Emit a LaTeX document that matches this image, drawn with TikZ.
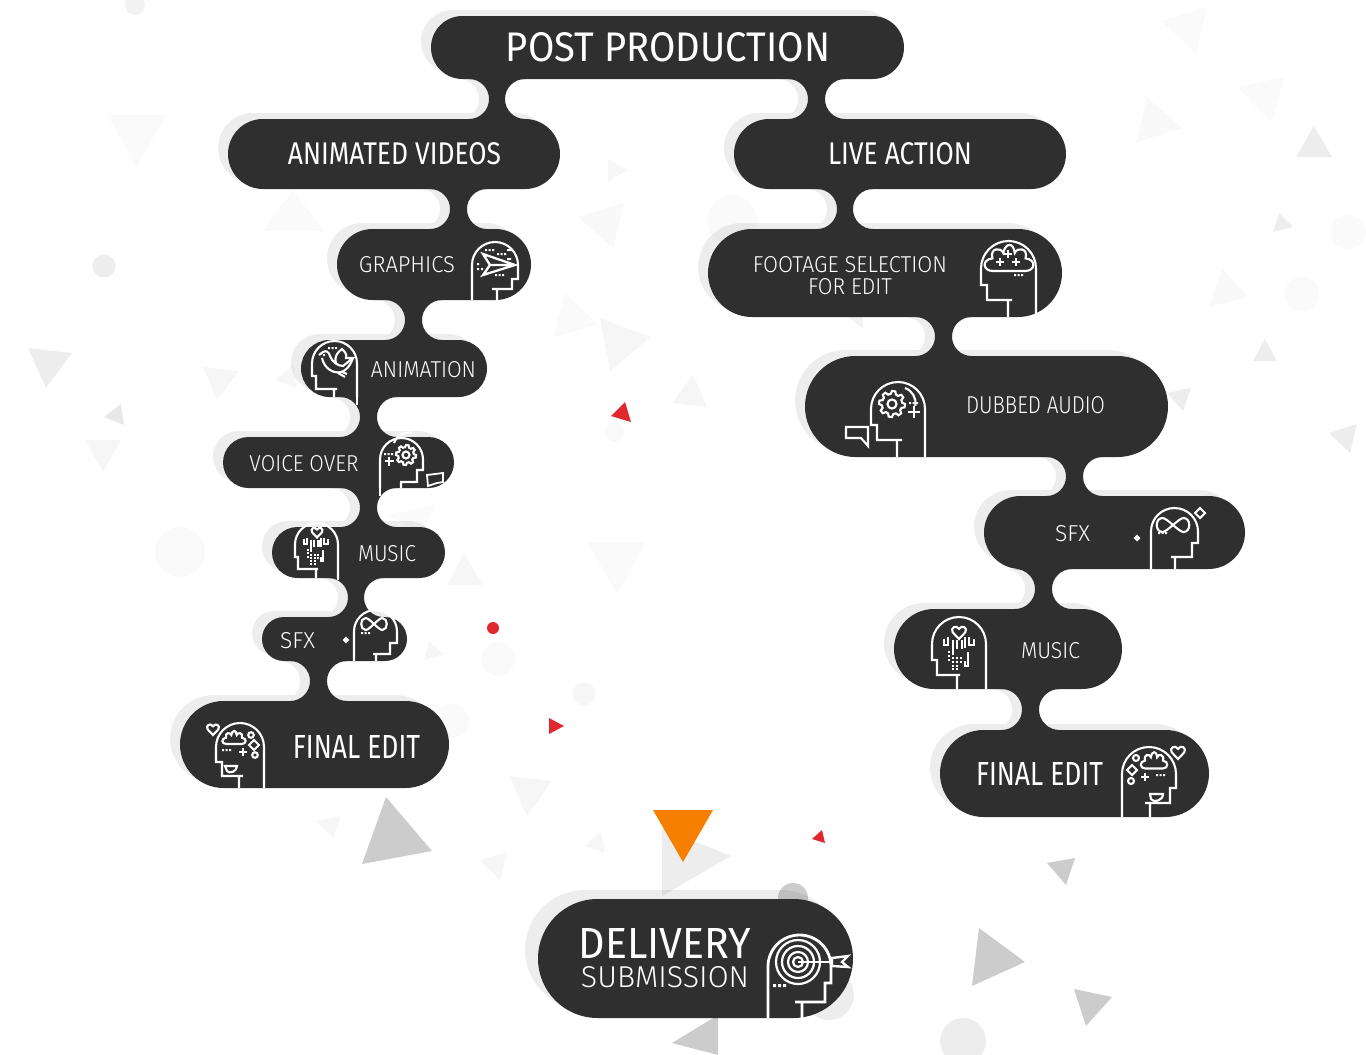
\documentclass[tikz,border=0pt]{standalone}
\usepackage{fontspec}
\usepackage{graphicx}
\usetikzlibrary{calc}
\setmainfont{Liberation Sans}
\newfontfamily\regfont{Fira Sans}
\newfontfamily\lightfont[UprightFont=* Light]{Fira Sans}
\definecolor{pilldark}{HTML}{2F2F2F}
\definecolor{shadowgrey}{HTML}{EDEDED}
\definecolor{markorange}{HTML}{F77F00}
\definecolor{markred}{HTML}{E1282E}
\pgfdeclarelayer{shadowlayer}
\pgfdeclarelayer{bglayer}
\pgfsetlayers{shadowlayer,bglayer,main}
\tikzset{
  shadowfill/.style={fill=shadowgrey},
  pillfill/.style={fill=pilldark},
  pillbox/.style={rectangle,fill=pilldark,inner sep=0pt,outer sep=0pt},
  textnode/.style={inner sep=0pt,outer sep=0pt,text=white,align=center},
  iconline/.style={draw=white,line width=2.1pt,line join=miter,fill=none},
  thinline/.style={draw=white,line width=1.8pt,fill=none},
  tv/.style={fill=black,opacity=.035},
  ta/.style={fill=black,opacity=.07},
  tf/.style={fill=black,opacity=.02},
  tc/.style={fill=black,opacity=.2},
}
\newcommand\shx{-10}
\newcommand\shy{-6}
\newcommand\pill[5]{%
  \begin{pgfonlayer}{shadowlayer}
    \fill[shadowfill,shift={(\shx,\shy)},rounded corners={(#5-#3)/2*1pt}] (#2,#3) rectangle (#4,#5);
  \end{pgfonlayer}
  \node[pillbox,minimum width={(#4-#2)*1pt},minimum height={(#5-#3)*1pt},rounded corners={(#5-#3)/2*1pt}] (#1) at ({(#2+#4)/2},{(#3+#5)/2}) {};}
\newcommand\neckshape[4]{let \p1=(#1.south),\p2=(#2.north),\n1={(\y1-\y2)/2} in ({#3*1pt-\n1},\y1) arc[start angle=90,end angle=-90,radius=\n1] -- ({#4*1pt+\n1},\y2) arc[start angle=270,end angle=90,radius=\n1] -- cycle}
\newcommand\neck[4]{%
  \begin{pgfonlayer}{shadowlayer}
    \fill[shadowfill,shift={(\shx,\shy)}] \neckshape{#1}{#2}{#3}{#4};
  \end{pgfonlayer}
  \fill[pillfill] \neckshape{#1}{#2}{#3}{#4};}
\newcommand\lbl[7]{\node[textnode] (#1) at (#2,#3) {#6\resizebox{#4pt}{#5pt}{#7}};}
\newcommand\headright[9]{\draw[iconline] (#1,#9) -- (#1,{#3+(#2-#1)/2}) arc[start angle=180,delta angle=180,radius={(#2-#1)/2}] -- (#2,#4) -- (#5,#4) -- (#5,#6) -- (#7,#6) (#8,#6) -- (#8,#9);}
\newcommand\headleft[9]{\draw[iconline] (#2,#9) -- (#2,{#3+(#2-#1)/2}) arc[start angle=0,delta angle=-180,radius={(#2-#1)/2}] -- (#1,#4) -- (#5,#4) -- (#5,#6) -- (#7,#6) (#8,#6) -- (#8,#9);}
\newcommand\iconplus[3]{\draw[iconline] ({#1-#3},#2) -- ({#1+#3},#2) (#1,{#2-#3}) -- (#1,{#2+#3});}
\newcommand\icondots[2]{\fill[white] (#1,#2) rectangle +(2.2,2.2) ({#1+3.5},#2) rectangle +(2.2,2.2) ({#1+7},#2) rectangle +(2.2,2.2);}
\newcommand\iconcloud[4]{\draw[iconline,shift={(#1,#2)},xscale=#3/2,yscale=#4/2] (-.7,1) .. controls (-1.15,1) and (-1.2,.05) .. (-.72,-.05) .. controls (-.85,-.95) and (-.35,-1) .. (-.25,-.5) .. controls (-.15,-1.4) and (.2,-1.4) .. (.25,-.5) .. controls (.35,-1) and (.85,-.95) .. (.72,-.05) .. controls (1.2,.05) and (1.15,1) .. (.7,1) -- cycle;}
\newcommand\iconheart[3]{\draw[iconline,shift={(#1,#2)},scale=#3] (0,1) -- (-.9,.05) .. controls (-1.3,-.6) and (-.4,-1.1) .. (0,-.45) .. controls (.4,-1.1) and (1.3,-.6) .. (.9,.05) -- cycle;}
\newcommand\icondiamond[3]{\draw[iconline,shift={(#1,#2)},scale=#3] (0,-1) -- (1,0) -- (0,1) -- (-1,0) -- cycle;}
\newcommand\iconinf[4]{\draw[iconline,shift={(#1,#2)},xscale=#3,yscale=#4] (0,0) .. controls (-.35,-.6) and (-.6,-1) .. (-.75,-1) .. controls (-1.3,-1) and (-1.3,1) .. (-.75,1) .. controls (-.6,1) and (-.35,.6) .. (0,0) .. controls (.35,-.6) and (.6,-1) .. (.75,-1) .. controls (1.3,-1) and (1.3,1) .. (.75,1) .. controls (.6,1) and (.35,.6) .. (0,0) -- cycle;}
\newcommand\icongear[3]{\draw[iconline,shift={(#1,#2)},scale=#3] plot[domain=0:360,samples=49] (\x:{ifthenelse(mod(round(\x/7.5),6)<3,1,.78)}) -- cycle; \draw[iconline] (#1,#2) circle ({#3*.35});}
\newcommand\iconmusic[3]{\begin{scope}[shift={(#1,#2)},scale=#3]
  \draw[iconline] (-15,-12) -- (-15,-6) -- (-11,-6) -- (-11,-14) (-6,-11) -- (-6,4) (-2,-11) -- (-2,-2) (3,-11) -- (3,-2) (6,-14) -- (6,-3) (10,-14) -- (10,-6) -- (15,-6) -- (15,-12) (9,1) -- (9,15) -- (6,15) -- (6,10);
  \foreach \dx/\dy in {-11/0,-7/6,-11/4,-7/10,-3/6,-11/8,-3/10,1/6,-7/14,-3/14,-7/17,-3/17,1/10}
    {\fill[white] (\dx,\dy) rectangle +(2.4,2.4);}
  \end{scope}}
\begin{document}
\begin{tikzpicture}[x=1pt,y=-1pt]
\useasboundingbox (0,0) rectangle (1366,1055);
% background shapes
\begin{pgfonlayer}{bglayer}
\fill[ta,opacity=.05] (135,5) circle (10);
\fill[tf] (107,115) -- (166,115) -- (137,167) -- cycle;
\fill[tf] (293,190) -- (324,231) -- (263,231) -- cycle;
\fill[ta] (104,266) circle (11.5);
\fill[ta] (28,348) -- (72,353) -- (46,388) -- cycle;
\fill[tv] (203,367) -- (239,371) -- (217,400) -- cycle;
\fill[tv] (293,365) -- (275,380) -- (297,388) -- cycle;
\fill[ta,opacity=.09] (121,404) -- (124,425) -- (104,417) -- cycle;
\fill[tv] (85,440) -- (121,440) -- (103,472) -- cycle;
\fill[tv] (608,159) -- (627,170) -- (608,182) -- cycle;
\fill[tv,opacity=.025] (624,203) -- (578,217) -- (613,248) -- cycle;
\fill[tf] (732,220) circle (25);
\fill[tf] (565,293) -- (598,324) -- (553,338) -- cycle;
\fill[tv] (600,318) -- (651,337) -- (610,371) -- cycle;
\fill[tv] (693,374) -- (707,407) -- (672,403) -- cycle;
\fill[tf] (615,432) circle (10);
\fill[tf] (1207,7) -- (1161,21) -- (1196,54) -- cycle;
\fill[tf] (1285,77) -- (1237,87) -- (1271,123) -- cycle;
\fill[tf,opacity=.025] (1147,97) -- (1182,128) -- (1136,143) -- cycle;
\fill[ta] (1314,126) -- (1332,157) -- (1296,157) -- cycle;
\fill[ta] (1279,213) -- (1293,227) -- (1273,232) -- cycle;
\fill[tf] (1348,232) circle (17.5);
\fill[tf,opacity=.025] (1222,268) -- (1248,297) -- (1209,307) -- cycle;
\fill[tf] (1302,294) circle (17.5);
\fill[ta] (1265,339) -- (1277,361) -- (1253,361) -- cycle;
\fill[ta] (1191,388) -- (1167,393) -- (1183,411) -- cycle;
\fill[ta] (1357,424) -- (1329,433) -- (1350,453) -- cycle;
\fill[ta,opacity=.05] (840,310) -- (863,310) -- (863,329) -- cycle;
\fill[tf] (180,552) circle (25);
\fill[tf] (435,505) -- (388,515) -- (423,533) -- cycle;
\fill[tv] (464,553) -- (483,585) -- (447,585) -- cycle;
\fill[tf] (587,542) -- (646,542) -- (617,594) -- cycle;
\fill[tv] (429,641) -- (443,654) -- (424,660) -- cycle;
\fill[tf] (498,659) circle (17);
\fill[tv] (584,694) circle (11.5);
\fill[tf] (452,721) circle (17);
\fill[tv] (509,776) -- (552,781) -- (527,816) -- cycle;
\fill[tc] (386,797) -- (432,851) -- (362,864) -- cycle;
\fill[tv] (341,816) -- (317,821) -- (333,838) -- cycle;
\fill[tv] (601,831) -- (605,853) -- (584,846) -- cycle;
\fill[tv] (507,852) -- (479,860) -- (500,880) -- cycle;
\fill[ta] (662,828) -- (731,856) -- (662,896) -- cycle;
\fill[tc] (793,898) circle (15);
\fill[ta] (829,995) circle (25);
\fill[tc] (718,1015) -- (718,1055) -- (672,1043) -- cycle;
\fill[tc] (1075,858) -- (1047,863) -- (1066,885) -- cycle;
\fill[tc] (979,928) -- (1025,962) -- (972,986) -- cycle;
\fill[tc] (1074,989) -- (1112,997) -- (1086,1026) -- cycle;
\fill[ta] (963,1041) circle (23);
\end{pgfonlayer}
% accent marks
\fill[markorange] (653,810) -- (713,810) -- (683,862) -- cycle;
\fill[markred] (625,402) -- (631,422) -- (611,416) -- cycle;
\fill[markred] (549,718) -- (564,726) -- (549,734) -- cycle;
\fill[markred] (822,830) -- (825,843) -- (812,839) -- cycle;
\fill[markred] (493,628) circle (6);
% pills
\pill{post}{431}{16}{904}{79}
\pill{anim}{228}{119}{560}{189}
\pill{live}{734}{119}{1066}{189}
\pill{graph}{337}{229}{531}{300}
\pill{animation}{301}{340}{487}{397}
\pill{voice}{223}{437}{454}{488}
\pill{musicl}{272}{527}{445}{578}
\pill{sfxl}{262}{617}{407}{661}
\pill{finall}{180}{701}{449}{788}
\pill{foot}{708}{229}{1062}{317}
\pill{dub}{805}{356}{1168}{457}
\pill{sfxr}{984}{496}{1245}{569}
\pill{musicr}{894}{609}{1122}{689}
\pill{finalr}{940}{730}{1209}{817}
\renewcommand\shx{-13}\renewcommand\shy{-9}
\pill{deliv}{538}{899}{853}{1018}
\renewcommand\shx{-10}\renewcommand\shy{-6}
% connecting necks
\neck{post}{anim}{489}{505}
\neck{post}{live}{808}{825}
\neck{anim}{graph}{450}{467}
\neck{live}{foot}{837}{853}
\neck{graph}{animation}{405}{422}
\neck{animation}{voice}{360}{377}
\neck{voice}{musicl}{360}{377}
\neck{musicl}{sfxl}{348}{364}
\neck{sfxl}{finall}{310}{327}
\neck{foot}{dub}{935}{952}
\neck{dub}{sfxr}{1066}{1083}
\neck{sfxr}{musicr}{1035}{1052}
\neck{musicr}{finalr}{1022}{1039}
% labels
\lbl{tpost}{668}{47}{324}{29}{\regfont}{POST PRODUCTION}
\lbl{tanim}{394.5}{153.7}{213}{22}{\regfont}{ANIMATED VIDEOS}
\lbl{tlive}{900}{153.7}{144}{22}{\regfont}{LIVE ACTION}
\lbl{tgraph}{407}{265}{96}{16}{\lightfont}{GRAPHICS}
\lbl{tanimation}{423.5}{370}{105}{16}{\lightfont}{ANIMATION}
\lbl{tvoice}{304}{464}{109}{16}{\lightfont}{VOICE OVER}
\lbl{tmusicl}{387}{554}{58}{16}{\lightfont}{MUSIC}
\lbl{tsfxl}{297.5}{641}{35}{16}{\lightfont}{SFX}
\lbl{tfinall}{356.5}{747}{127}{23}{\regfont}{FINAL EDIT}
\node[textnode,font=\fontsize{10}{22}\selectfont] (tfoot) at (850,275.5) {\lightfont\resizebox{194pt}{16pt}{FOOTAGE SELECTION}\\\lightfont\resizebox{84pt}{16pt}{FOR EDIT}};
\lbl{tdub}{1035.5}{405}{139}{17}{\lightfont}{DUBBED AUDIO}
\lbl{tsfxr}{1072.5}{534}{35}{16}{\lightfont}{SFX}
\lbl{tmusicr}{1050.5}{651}{59}{16}{\lightfont}{MUSIC}
\lbl{tfinalr}{1039.5}{774}{127}{23}{\regfont}{FINAL EDIT}
\node[textnode,font=\fontsize{10}{28.5}\selectfont] (tdeliv) at (665,958.3) {\regfont\resizebox{172pt}{30pt}{DELIVERY}\\\lightfont\resizebox{168pt}{21pt}{SUBMISSION}};
% ICONS
% graphics: paper plane
\headright{472}{518}{242}{279}{512}{289}{492}{497}{300}
\draw[iconline,line width=2.3pt] (483,254) -- (515,265) -- (483,275) -- (490,265) -- cycle (490,265) -- (515,265);
\icondots{485}{249}
\icondots{497}{253}
\icondots{495}{274}
\fill[white] (477,263) rectangle +(2,2) (477,268) rectangle +(2,2) (481,268) rectangle +(2,2) (507,249) rectangle +(5,2) (507,258) rectangle +(4,2);
% animation: bird
\headleft{312}{357}{341}{376}{316}{389}{337}{334}{397}
\draw[iconline] (357,397) -- (357,405);
\draw[iconline] (319,355) -- (323,352) .. controls (326,350) and (329,352) .. (330,356) .. controls (332,362) and (338,366) .. (343,366) -- (353,358) -- (346,358) .. controls (347,354) and (345,352) .. (342,349) .. controls (338,352) and (334,356) .. (336,363);
\draw[iconline] (322,358) .. controls (324,368) and (333,374) .. (341,372) .. controls (346,371) and (350,366) .. (353,358);
\draw[iconline] (338,373) -- (345,377) (342,372) -- (347,374);
\fill[white] (324,355) circle (1.3);
\icondots{328}{347}
% voice over: gear head, speech bubble
\headright{380}{423}{438}{470}{417}{482}{400}{401}{488}
\draw[iconline] (380,488) -- (380,496);
\icongear{406}{455}{10}
\draw[iconline] (394,443) arc[start angle=200,delta angle=80,radius=16];
\iconplus{389}{461}{4.5}
\icondots{384}{453}
\draw[thinline] (427,475) -- (443,473) -- (443,482) -- (437,483) -- (428,486) -- cycle;
% music left
\headleft{295}{338}{523}{557}{298}{569}{318}{316}{578}
\draw[iconline] (338,578) -- (338,580);
\iconheart{317}{532}{5.5}
\iconmusic{316}{549}{.82}
% sfx left
\headright{354}{397}{610}{643}{390}{654}{373}{376}{661}
\iconinf{374}{624}{11}{6}
\icondots{361}{632}
\icondiamond{346}{640}{2}
% final edit left
\headleft{216}{264}{723}{762}{222}{776}{243}{239}{788}
\iconcloud{234}{738}{22}{12}
\iconheart{213}{729}{6}
\draw[iconline] (251,735) circle (2.8) (255,755) circle (2.8);
\icondiamond{254}{745}{5}
\iconplus{243}{752}{4}
\icondots{222}{749}
\draw[iconline] (225,766) -- (237,766) .. controls (237,772) and (229,774) .. (227,771) -- cycle;
% footage: brain cloud
\headleft{981}{1036}{241}{285}{987}{300}{1012}{1008}{317}
\iconcloud{1009}{259}{46}{24}
\iconplus{1000}{262}{4}
\iconplus{1008}{254}{4}
\iconplus{1016}{262}{4}
\icondots{1014}{274}
% dubbed: gear, speech bubble
\headleft{871}{925}{382}{425}{877}{440}{902}{897}{457}
\icongear{892}{404}{13}
\draw[iconline] (905,388) arc[start angle=-70,delta angle=80,radius=16];
\iconplus{914}{412}{6}
\icondots{909}{402}
\draw[iconline] (846,427) -- (868,427) -- (868,446) -- (861,438) -- (846,438) -- cycle;
% sfx right
\headright{1151}{1198}{508}{543}{1192}{557}{1171}{1175}{569}
\iconinf{1173}{525}{14}{7}
\icondots{1158}{532}
\icondiamond{1200}{513}{5}
\icondiamond{1137}{538}{2}
% music right
\headleft{932}{986}{617}{660}{937}{675}{960}{957}{689}
\iconheart{959}{632}{7}
\iconmusic{959}{651}{1}
% final edit right
\headright{1122}{1176}{747}{788}{1170}{803}{1145}{1150}{817}
\iconcloud{1154}{761}{25}{15}
\iconheart{1178}{752}{7}
\draw[iconline] (1136,758) circle (3) (1131,781) circle (3);
\icondiamond{1132}{770}{5}
\iconplus{1145}{777}{4}
\icondots{1156}{774}
\draw[iconline] (1150,794) -- (1163,794) .. controls (1163,801) and (1153,803) .. (1151,799) -- cycle;
% delivery: target
\begin{scope}[iconline/.append style={line width=2.8pt}]
\headright{768}{831}{935}{983}{825}{1002}{795}{802}{1018}
\foreach \rr in {22,16,10,5} {\draw[iconline,line width=2.2pt] (798,962) circle (\rr);}
\draw[iconline,line width=2.2pt] (798,962) -- (832,962);
\draw[iconline,line width=2.4pt] (832,958) -- (848,956) -- (842,962) -- (848,967) -- (832,966) -- cycle;
\end{scope}
\fill[white] (773,984) rectangle +(3,3) (778,984) rectangle +(3,3) (783,984) rectangle +(3,3);
\end{tikzpicture}
\end{document}
